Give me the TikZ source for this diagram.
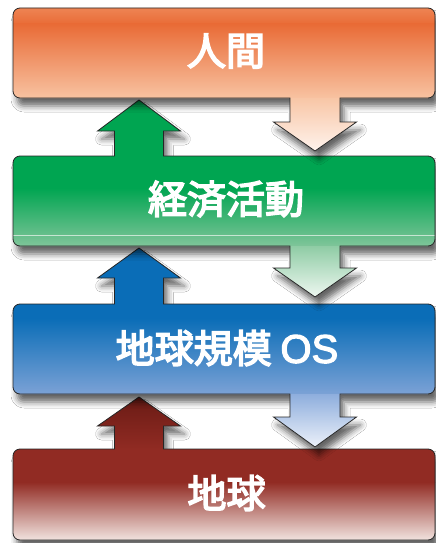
\documentclass[tikz,border=0pt]{standalone}
\usepackage{fontspec}
\newfontfamily\jp{Noto Sans CJK JP}[FakeBold=4]
\newfontfamily\lat{Liberation Sans}[FakeBold=3]
\usetikzlibrary{shadows.blur}
\definecolor{oA}{HTML}{EE8555}
\definecolor{oB}{HTML}{E96B36}
\definecolor{oC}{HTML}{F8C3A2}
\definecolor{oD}{HTML}{F8C6A6}
\definecolor{oE}{HTML}{FFF4EE}
\definecolor{gA}{HTML}{00A551}
\definecolor{gB}{HTML}{80C59A}
\definecolor{gC}{HTML}{8FCCA5}
\definecolor{gD}{HTML}{F0F8F2}
\definecolor{bA}{HTML}{0A6DB7}
\definecolor{bB}{HTML}{7CA2D6}
\definecolor{bC}{HTML}{8EAEDD}
\definecolor{bD}{HTML}{EEF2FA}
\definecolor{rA}{HTML}{912B23}
\definecolor{rB}{HTML}{B0685A}
\definecolor{rC}{HTML}{F3E6E2}
\definecolor{rT}{HTML}{6A1B15}
\definecolor{edge}{HTML}{262626}
\tikzset{
  outline/.style={draw=edge, line width=0.8pt, line join=miter},
  shad/.style={blur shadow={shadow xshift=4pt, shadow yshift=-8pt, shadow blur radius=6pt, shadow opacity=60}},
  boxlabel/.style={text=white, font=\jp\fontsize{39}{41}\selectfont, inner sep=0pt, anchor=center},
}
\newcommand\dopath[2]{\path[#2] #1;}
\newcommand\withpath[2]{\expandafter\dopath\expandafter{#2}{#1}}
% box 1
\def\PA{(13,-15) arc (180:90:7) -- (428,-8) arc (90:0:7) -- (435,-91) arc (0:-90:7) -- (340,-98) -- (340,-122) -- (356.5,-122) -- (315,-151) -- (273.5,-122) -- (290,-122) -- (290,-98) -- (20,-98) arc (270:180:7) -- cycle}
% box 2
\def\PB{(13,-163) arc (180:90:7) -- (114.5,-156) -- (114.5,-131) -- (97.5,-131) -- (139,-100) -- (180.5,-131) -- (163.5,-131) -- (163.5,-156) -- (428,-156) arc (90:0:7) -- (435,-239) arc (0:-90:7) -- (340,-246) -- (340,-268) -- (356.5,-268) -- (315,-297) -- (273.5,-268) -- (290,-268) -- (290,-246) -- (20,-246) arc (270:180:7) -- cycle}
% box 3
\def\PC{(13,-311) arc (180:90:7) -- (114.5,-304) -- (114.5,-278) -- (97.5,-278) -- (139,-248) -- (180.5,-278) -- (163.5,-278) -- (163.5,-304) -- (428,-304) arc (90:0:7) -- (435,-387) arc (0:-90:7) -- (340,-394) -- (340,-417) -- (356.5,-417) -- (315,-447) -- (273.5,-417) -- (290,-417) -- (290,-394) -- (20,-394) arc (270:180:7) -- cycle}
% box 4
\def\PD{(13,-456) arc (180:90:7) -- (114.5,-449) -- (114.5,-426) -- (97.5,-426) -- (139,-397) -- (180.5,-426) -- (163.5,-426) -- (163.5,-449) -- (428,-449) arc (90:0:7) -- (435,-533) arc (0:-90:7) -- (428,-540) -- (20,-540) arc (270:180:7) -- cycle}
\begin{document}
\begin{tikzpicture}[x=1pt,y=1pt]
\useasboundingbox (0,0) rectangle (436,-543);
\fill[white] (0,0) rectangle (436,-543);

% ---- box 4: earth
\withpath{shad, fill=white}{\PD}
\begin{scope}
  \withpath{clip}{\PD}
  \shade[top color=rT, bottom color=rA] (0,-397) rectangle (436,-449.5);
  \fill[rA] (0,-449) rectangle (436,-482.5);
  \shade[top color=rA, middle color=rB, bottom color=rC] (0,-482) rectangle (436,-541);
\end{scope}
\withpath{outline}{\PD}

% ---- box 3: global OS
\withpath{shad, fill=white}{\PC}
\begin{scope}
  \withpath{clip}{\PC}
  \fill[bA] (0,-240) rectangle (436,-318.5);
  \shade[top color=bA, bottom color=bB] (0,-318) rectangle (436,-394.5);
  \shade[top color=bC, bottom color=bD] (0,-394) rectangle (436,-448);
\end{scope}
\withpath{outline}{\PC}

% ---- box 2: economic activity
\withpath{shad, fill=white}{\PB}
\begin{scope}
  \withpath{clip}{\PB}
  \fill[gA] (0,-90) rectangle (436,-188.5);
  \shade[top color=gA, bottom color=gB] (0,-188) rectangle (436,-246.5);
  \shade[top color=gC, bottom color=gD] (0,-246) rectangle (436,-298);
  \draw[white!55!gB, line width=0.8pt] (0,-235) -- (436,-235);
\end{scope}
\withpath{outline}{\PB}

% ---- box 1: humans
\withpath{shad, fill=white}{\PA}
\begin{scope}
  \withpath{clip}{\PA}
  \shade[top color=oA, bottom color=oB] (0,-7) rectangle (436,-24.5);
  \shade[top color=oB, bottom color=oC] (0,-24) rectangle (436,-98.5);
  \shade[top color=oD, bottom color=oE] (0,-98) rectangle (436,-152);
\end{scope}
\withpath{outline}{\PA}

% ---- labels
\node[boxlabel] (human) at (226,-51) {人間};
\node[boxlabel] (econ) at (226,-199) {経済活動};
\node[boxlabel] (os) at (227,-348) {地球規模 {\lat\fontsize{40}{42}\selectfont OS}};
\node[boxlabel] (earth) at (226.5,-493) {地球};
\end{tikzpicture}
\end{document}
